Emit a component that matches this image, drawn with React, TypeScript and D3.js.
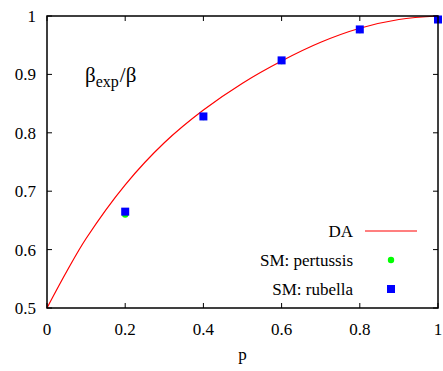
import { useEffect, useRef } from "react"
import * as d3 from "d3"

// DA curve
const daP = [0, 0.05, 0.1, 0.2, 0.3, 0.4, 0.5, 0.6, 0.7, 0.8, 0.9, 1]
const daBeta = [0.5, 0.562, 0.619, 0.711, 0.783, 0.839, 0.885, 0.923, 0.955, 0.979, 0.994, 1]

// simulation points
const smP = [0.2, 0.4, 0.6, 0.8, 1.0]
const pertussis = [0.66, 0.827, 0.923, 0.976, 0.994]
const rubella = [0.665, 0.828, 0.924, 0.977, 0.994]

const xTicks = [0, 0.2, 0.4, 0.6, 0.8, 1]
const yTicks = [0.5, 0.6, 0.7, 0.8, 0.9, 1]

export default function App() {
  const svgRef = useRef<SVGSVGElement>(null)

  useEffect(() => {
    if (!svgRef.current) return
    const svg = d3.select(svgRef.current)
    svg.selectAll("*").remove()

    const left = 47, right = 438, top = 16, bottom = 308
    const font = "'Liberation Serif', 'Times New Roman', serif"

    const x = d3.scaleLinear().domain([0, 1]).range([left, right])
    const y = d3.scaleLinear().domain([0.5, 1]).range([bottom, top])

    // ticks (gnuplot style: inward, mirrored)
    const g = svg.append("g").attr("stroke", "#000").attr("stroke-width", 1)
    xTicks.forEach((t) => {
      g.append("line").attr("x1", x(t)).attr("x2", x(t)).attr("y1", bottom).attr("y2", bottom - 5)
      g.append("line").attr("x1", x(t)).attr("x2", x(t)).attr("y1", top).attr("y2", top + 5)
    })
    yTicks.forEach((t) => {
      g.append("line").attr("x1", left).attr("x2", left + 5).attr("y1", y(t)).attr("y2", y(t))
      g.append("line").attr("x1", right).attr("x2", right - 5).attr("y1", y(t)).attr("y2", y(t))
    })

    // tick labels
    svg
      .selectAll(".xl")
      .data(xTicks)
      .enter()
      .append("text")
      .attr("x", (d) => x(d))
      .attr("y", 335)
      .attr("text-anchor", "middle")
      .style("font", `17px ${font}`)
      .text((d) => d3.format("~g")(d))

    svg
      .selectAll(".yl")
      .data(yTicks)
      .enter()
      .append("text")
      .attr("x", 36)
      .attr("y", (d) => y(d) + 6)
      .attr("text-anchor", "end")
      .style("font", `17px ${font}`)
      .text((d) => d3.format("~g")(d))

    svg
      .append("text")
      .attr("x", (left + right) / 2)
      .attr("y", 360)
      .attr("text-anchor", "middle")
      .style("font", `17px ${font}`)
      .text("p")

    // label
    const lbl = svg.append("text").attr("x", 85).attr("y", 82).style("font", `21px ${font}`)
    lbl.append("tspan").text("β")
    lbl.append("tspan").attr("dy", 5).style("font-size", "16px").text("exp")
    lbl.append("tspan").attr("dy", -5).attr("dx", 1).text("/β")

    // DA curve
    const line = d3
      .line<number>()
      .x((_, i) => x(daP[i]))
      .y((d) => y(d))
      .curve(d3.curveCatmullRom)
    svg
      .append("path")
      .datum(daBeta)
      .attr("fill", "none")
      .attr("stroke", "#ff0000")
      .attr("stroke-width", 1.2)
      .attr("d", line)

    // points
    svg
      .selectAll(".pert")
      .data(pertussis)
      .enter()
      .append("circle")
      .attr("cx", (_, i) => x(smP[i]))
      .attr("cy", (d) => y(d))
      .attr("r", 3.2)
      .attr("fill", "#00ff00")

    svg
      .selectAll(".rub")
      .data(rubella)
      .enter()
      .append("rect")
      .attr("x", (_, i) => x(smP[i]) - 4)
      .attr("y", (d) => y(d) - 4)
      .attr("width", 8)
      .attr("height", 8)
      .attr("fill", "#0000ff")

    // frame
    svg
      .append("rect")
      .attr("x", left)
      .attr("y", top)
      .attr("width", right - left)
      .attr("height", bottom - top)
      .attr("fill", "none")
      .attr("stroke", "#000")
      .attr("stroke-width", 1.5)

    // legend
    const lg = svg.append("g").style("font", `17px ${font}`)
    const labels = ["DA", "SM: pertussis", "SM: rubella"]
    labels.forEach((l, i) => {
      lg.append("text")
        .attr("x", 353)
        .attr("y", 237 + i * 29)
        .attr("text-anchor", "end")
        .text(l)
    })
    lg.append("line").attr("x1", 365).attr("x2", 417).attr("y1", 231).attr("y2", 231).attr("stroke", "#ff0000").attr("stroke-width", 1.2)
    lg.append("circle").attr("cx", 391).attr("cy", 260).attr("r", 3.2).attr("fill", "#00ff00")
    lg.append("rect").attr("x", 387).attr("y", 285).attr("width", 8).attr("height", 8).attr("fill", "#0000ff")
  }, [])

  return (
    <svg
      ref={svgRef}
      width={443}
      height={371}
      style={{ position: "fixed", top: 0, left: 0, background: "#fff" }}
    />
  )
}
